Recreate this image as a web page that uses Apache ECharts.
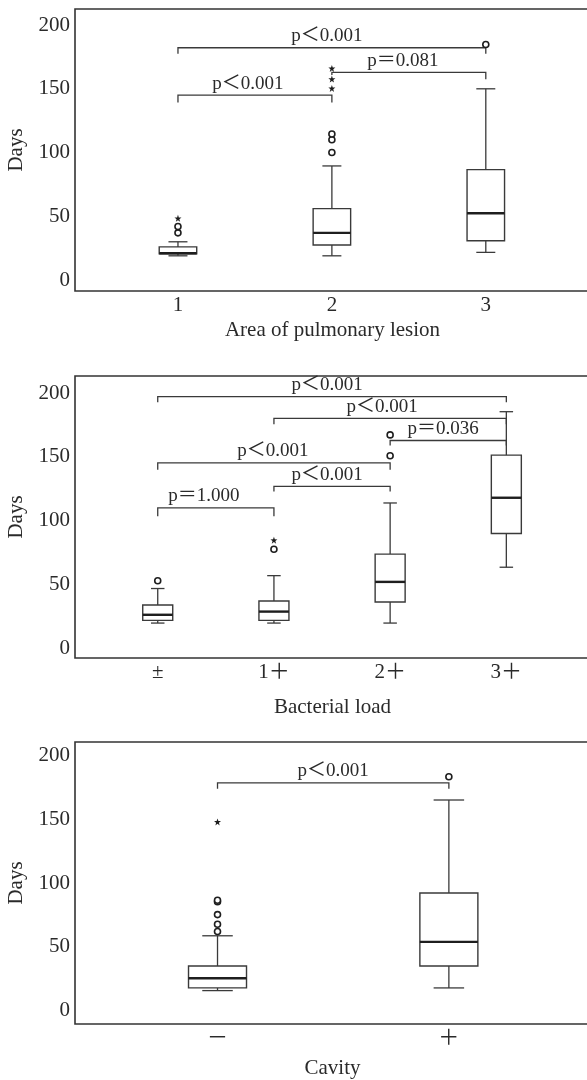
<!DOCTYPE html>
<html>
<head>
<meta charset="utf-8">
<style>
  html, body { margin: 0; padding: 0; background: #fff; }
  #chart { width: 587px; height: 1080px; }
</style>
<script src="https://cdn.jsdelivr.net/npm/echarts@6/dist/echarts.min.js"></script>
</head>
<body>
<div id="chart"></div>
<script>
// ---- panel 1: area of pulmonary lesion ----
const lesionCats = ['1', '2', '3'];
// min, q1, median, q3, max
const lesionBoxes = [
  [19, 20.5, 21, 26, 30],
  [19, 27.5, 37, 56, 89.5],
  [21.7, 30.8, 52.4, 86.6, 150]
];
const lesionCircles = [[1, 37], [1, 42], [2, 100], [2, 110], [2, 114.5], [3, 184.8]];
const lesionStars = [[1, 48.4], [2, 150.3], [2, 157.6], [2, 166]];
// from, to, bar height, left tick end, right tick end
const lesionBrackets = [
  [1, 3, 182.2, 177.5, 177.5],
  [1, 2, 145.1, 139.3, 139.3],
  [2, 3, 162.9, 160.8, 157.4]
];
const lesionPText = ['p＜0.001', 'p＜0.001', 'p＝0.081'];

// ---- panel 2: bacterial load ----
const loadCats = ['±', '1＋', '2＋', '3＋'];
const loadBoxes = [
  [19.6, 21.7, 26.1, 33.8, 46.7],
  [19.6, 21.7, 28.6, 36.9, 56.8],
  [19.6, 36.1, 51.9, 73.7, 113.8],
  [63.4, 89.8, 117.9, 151.3, 185.4]
];
const loadCircles = [[1, 52.8], [2, 77.5], [3, 150.8], [3, 167.2]];
const loadStars = [[2, 84.6]];
const loadBrackets = [
  [1, 4, 197.2, 192.8, 192.8],
  [2, 4, 180.2, 175.5, 175.5],
  [3, 4, 162.8, 158.8, 158.8],
  [1, 3, 145.3, 139.9, 139.9],
  [2, 3, 126.8, 122.9, 122.9],
  [1, 2, 110.0, 103.3, 103.3]
];
const loadPText = ['p＜0.001', 'p＜0.001', 'p＝0.036', 'p＜0.001', 'p＜0.001', 'p＝1.000'];

// ---- panel 3: cavity ----
const cavityCats = ['－', '＋'];
const cavityBoxes = [
  [15.7, 17.8, 25.4, 35, 58.7],
  [17.8, 35, 53.9, 92.3, 165.2]
];
const cavityCircles = [[1, 62.1], [1, 67.7], [1, 75.3], [1, 85.4], [1, 86.6], [2, 183.5]];
const cavityStars = [[1, 148]];
const cavityBrackets = [[1, 2, 178.6, 174.1, 174.1]];
const cavityPText = ['p＜0.001'];

const yTicks = [0, 50, 100, 150, 200];

// layout / styles
const FONT = "'Liberation Serif', 'Noto Sans CJK SC', serif";
const INK = '#2a2a2a';
const LINE = '#3a3a3a';
const STAR = 'path://M0,-10L2.35,-3.24L9.51,-3.09L3.8,1.24L5.88,8.09L0,4L-5.88,8.09L-3.8,1.24L-9.51,-3.09L-2.35,-3.24Z';

// the frame runs past the right edge of the picture, so width is wider than what is visible
const panels = [
  { cats: lesionCats, boxes: lesionBoxes, circles: lesionCircles, stars: lesionStars,
    brackets: lesionBrackets, ptext: lesionPText, pShift: [-5, -7, -6],
    title: 'Area of pulmonary lesion', top: 9, xMin: 0.331, xMax: 3.677, yMin: -8.6, yMax: 212.6,
    boxW: 37.5, capW: 19, nameGap: 29 },
  { cats: loadCats, boxes: loadBoxes, circles: loadCircles, stars: loadStars,
    brackets: loadBrackets, ptext: loadPText, pShift: [-5, -8, -5, -1, -5, -12],
    title: 'Bacterial load', top: 376, xMin: 0.288, xMax: 4.72, yMin: -7.8, yMax: 213.4,
    boxW: 30, capW: 13.5, nameGap: 39 },
  { cats: cavityCats, boxes: cavityBoxes, circles: cavityCircles, stars: cavityStars,
    brackets: cavityBrackets, ptext: cavityPText, pShift: [0],
    title: 'Cavity', top: 742, xMin: 0.384, xMax: 2.61, yMin: -10.5, yMax: 210.7,
    boxW: 58, capW: 30.5, nameGap: 34 }
];

function boxRenderer(boxW, capW) {
  return function (params, api) {
    const x = api.value(0);
    const lo = api.coord([x, api.value(1)]);
    const q1 = api.coord([x, api.value(2)]);
    const md = api.coord([x, api.value(3)]);
    const q3 = api.coord([x, api.value(4)]);
    const hi = api.coord([x, api.value(5)]);
    const cx = lo[0];
    const st = { stroke: LINE, lineWidth: 1.3, fill: null };
    return {
      type: 'group',
      children: [
        { type: 'line', shape: { x1: cx, y1: hi[1], x2: cx, y2: q3[1] }, style: st },
        { type: 'line', shape: { x1: cx, y1: q1[1], x2: cx, y2: lo[1] }, style: st },
        { type: 'line', shape: { x1: cx - capW / 2, y1: hi[1], x2: cx + capW / 2, y2: hi[1] }, style: st },
        { type: 'line', shape: { x1: cx - capW / 2, y1: lo[1], x2: cx + capW / 2, y2: lo[1] }, style: st },
        { type: 'rect', shape: { x: cx - boxW / 2, y: q3[1], width: boxW, height: q1[1] - q3[1] },
          style: { fill: '#fff', stroke: LINE, lineWidth: 1.4 } },
        { type: 'line', shape: { x1: cx - boxW / 2, y1: md[1], x2: cx + boxW / 2, y2: md[1] },
          style: { stroke: '#1e1e1e', lineWidth: 2.4 } }
      ]
    };
  };
}

function bracketRenderer(texts, shifts) {
  return function (params, api) {
    const a = api.coord([api.value(0), api.value(2)]);
    const b = api.coord([api.value(1), api.value(2)]);
    const al = api.coord([api.value(0), api.value(3)]);
    const br = api.coord([api.value(1), api.value(4)]);
    return {
      type: 'group',
      children: [
        { type: 'polyline',
          shape: { points: [[a[0], al[1]], a, b, [b[0], br[1]]] },
          style: { stroke: LINE, lineWidth: 1.3, fill: null } },
        { type: 'text',
          style: { text: texts[params.dataIndex], x: (a[0] + b[0]) / 2 + shifts[params.dataIndex], y: a[1] - 2,
                   align: 'center', verticalAlign: 'bottom', font: '19px ' + FONT, fill: INK } }
      ]
    };
  };
}

const grid = [], xAxis = [], yAxis = [], series = [];
panels.forEach((p, i) => {
  grid.push({ left: 75, width: 515, top: p.top, height: 282, show: true,
    outerBoundsMode: 'none', containLabel: false,
    borderColor: '#333', borderWidth: 1.6, backgroundColor: 'transparent' });
  xAxis.push({
    type: 'value', gridIndex: i, min: p.xMin, max: p.xMax,
    name: p.title, nameLocation: 'middle', nameGap: p.nameGap,
    nameTextStyle: { fontFamily: FONT, fontSize: 21, color: INK },
    axisLine: { show: false }, axisTick: { show: false }, splitLine: { show: false },
    axisLabel: {
      customValues: p.cats.map((c, k) => k + 1),
      formatter: v => p.cats[Math.round(v) - 1],
      fontFamily: FONT, fontSize: 21, color: INK, margin: 4
    }
  });
  yAxis.push({
    type: 'value', gridIndex: i, min: p.yMin, max: p.yMax,
    name: 'Days', nameLocation: 'middle', nameGap: 48,
    nameTextStyle: { fontFamily: FONT, fontSize: 21, color: INK },
    axisLine: { show: false }, axisTick: { show: false }, splitLine: { show: false },
    axisLabel: { customValues: yTicks, fontFamily: FONT, fontSize: 21, color: INK, margin: 5 }
  });
  series.push({
    type: 'custom', xAxisIndex: i, yAxisIndex: i,
    renderItem: boxRenderer(p.boxW, p.capW),
    encode: { x: 0, y: [1, 2, 3, 4, 5] },
    data: p.boxes.map((b, k) => [k + 1].concat(b)),
    z: 2
  });
  series.push({
    type: 'custom', xAxisIndex: i, yAxisIndex: i,
    renderItem: bracketRenderer(p.ptext, p.pShift),
    encode: { x: [0, 1], y: [2, 3, 4] },
    data: p.brackets,
    z: 3
  });
  series.push({
    type: 'scatter', xAxisIndex: i, yAxisIndex: i,
    symbol: 'circle', symbolSize: 6,
    itemStyle: { color: '#fff', borderColor: '#1e1e1e', borderWidth: 1.6, opacity: 1 },
    data: p.circles, z: 4
  });
  series.push({
    type: 'scatter', xAxisIndex: i, yAxisIndex: i,
    symbol: STAR, symbolSize: 7,
    itemStyle: { color: '#1e1e1e', opacity: 1 },
    data: p.stars, z: 4
  });
});

const chart = echarts.init(document.getElementById('chart'), null, { renderer: 'canvas' });
chart.setOption({
  backgroundColor: '#fff',
  animation: false,
  grid: grid,
  xAxis: xAxis,
  yAxis: yAxis,
  series: series
});
</script>
</body>
</html>
